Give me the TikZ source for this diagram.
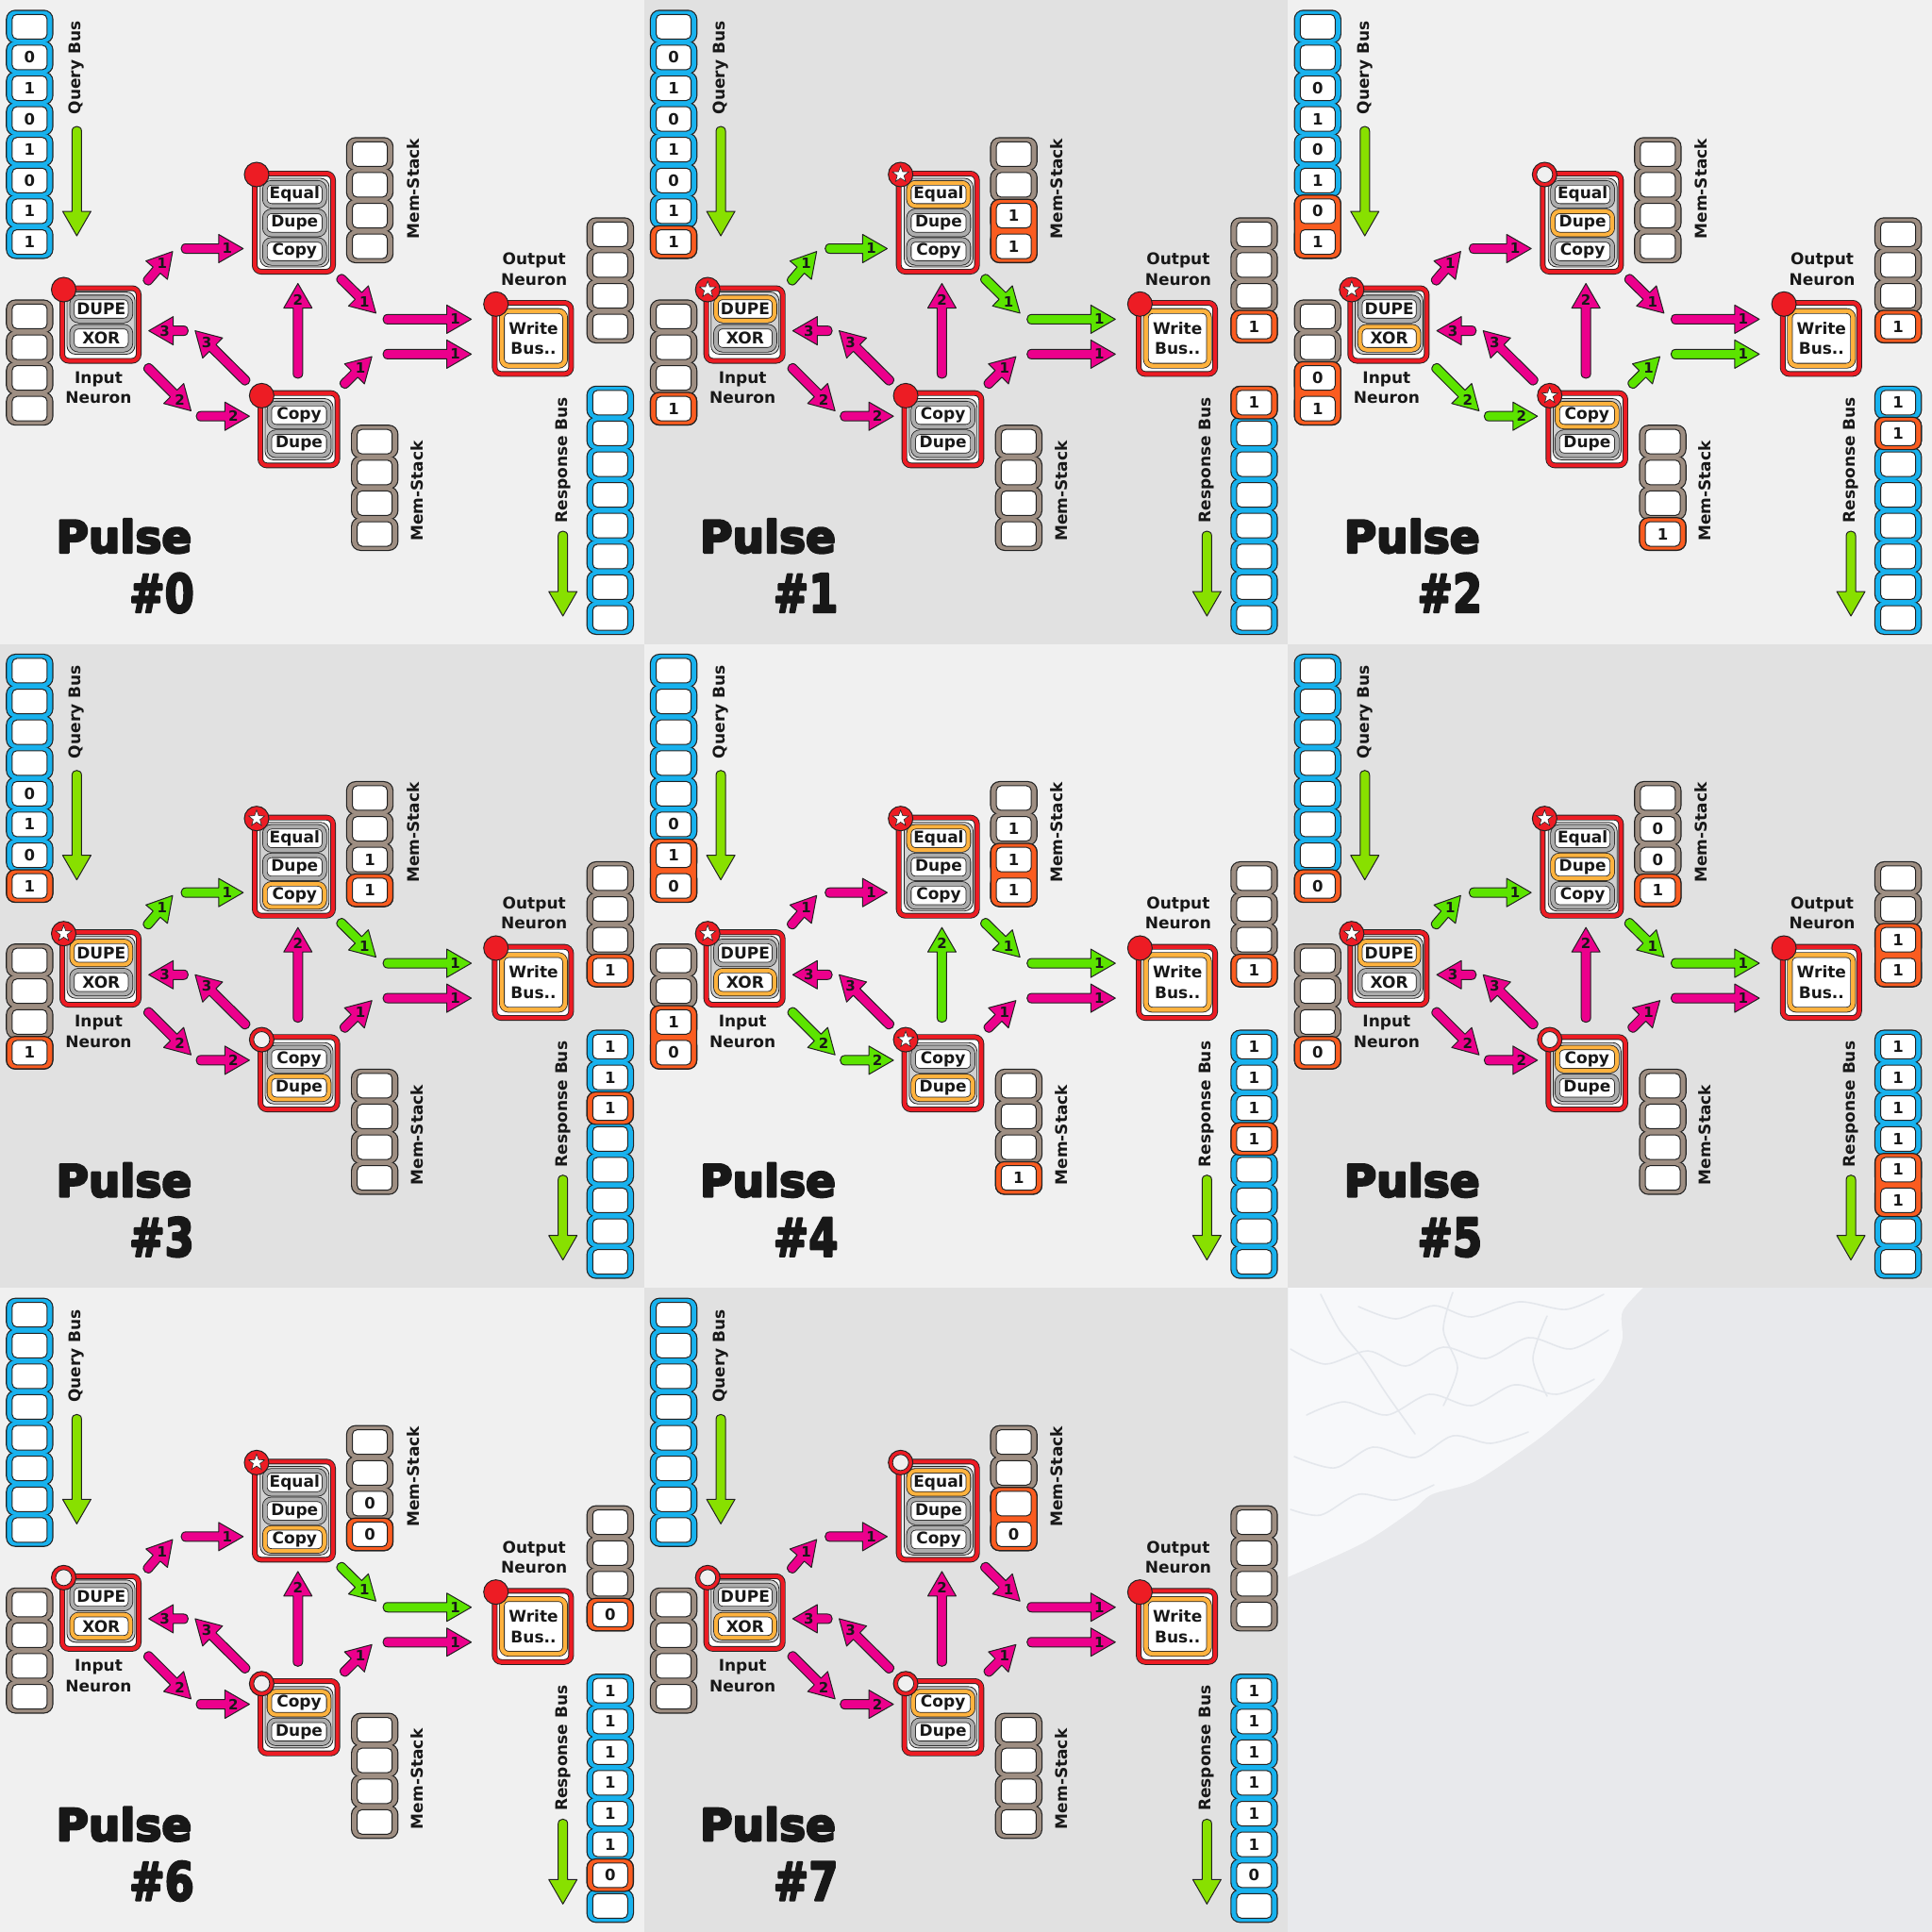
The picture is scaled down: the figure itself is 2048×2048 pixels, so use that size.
\documentclass[tikz,border=0pt]{standalone}
\usepackage{fontspec}
\setmainfont{DejaVu Sans}
\usepackage{graphicx}
\usetikzlibrary{calc,shapes.geometric}
\definecolor{dk}{RGB}{34,34,34}
\definecolor{txt}{RGB}{24,24,24}
\definecolor{bluec}{RGB}{24,178,238}
\definecolor{brownc}{RGB}{158,142,130}
\definecolor{hlc}{RGB}{250,92,32}
\definecolor{pillg}{RGB}{172,172,172}
\definecolor{pillo}{RGB}{255,178,62}
\definecolor{contc}{RGB}{208,208,208}
\definecolor{redc}{RGB}{237,28,36}
\definecolor{pk}{RGB}{236,0,140}
\definecolor{gr}{RGB}{92,228,0}
\definecolor{lime}{RGB}{136,224,0}
\definecolor{bgA}{RGB}{240,240,240}
\definecolor{bgB}{RGB}{225,225,225}
\definecolor{bgC}{RGB}{232,233,236}
\definecolor{brainf}{RGB}{247,248,250}
\definecolor{brainl}{RGB}{228,231,236}
\tikzset{
 cellin/.style={draw=dk, line width=1pt, fill=white, rounded corners=5pt, minimum width=37pt, minimum height=26pt, inner sep=0pt, font=\fontsize{16.5}{16.5}\selectfont\bfseries, text=txt},
 nframe/.style={draw=dk, double=redc, double distance=4.2pt, line width=0.9pt, fill=white, rounded corners=7pt, inner sep=0pt},
 cont/.style={draw=dk, line width=0.8pt, fill=contc, rounded corners=9pt, inner sep=0pt},
 pill/.style={draw=dk, double distance=4pt, line width=0.8pt, fill=white, rounded corners=7pt, minimum width=63pt, minimum height=24.5pt, inner sep=0pt, font=\fontsize{17}{17}\selectfont\bfseries, text=txt},
 lbl/.style={font=\fontsize{17}{21.6}\selectfont\bfseries, text=txt, align=center, inner sep=0pt},
 arrlbl/.style={font=\fontsize{15}{15}\selectfont\bfseries, text=txt, inner sep=0pt},
 brainline/.style={brainl, line width=1.6pt, line cap=round},
}
\newcommand{\cellval}[1]{\if e#1\else#1\fi}
% prefix, x, y0, colour, values, h1, h2
\newcommand{\stack}[7]{%
 \foreach \v [count=\i] in #5 {\path[draw=dk, line width=2.4pt, rounded corners=9pt] ({#2-24},{#3+32.6*(\i-1)-16.8}) rectangle ({#2+24},{#3+32.6*(\i-1)+16.8});}
 \foreach \v [count=\i] in #5 {\path[fill=#4, rounded corners=9pt] ({#2-24},{#3+32.6*(\i-1)-16.8}) rectangle ({#2+24},{#3+32.6*(\i-1)+16.8});}
 \ifnum#6>0 \path[draw=dk, line width=1.2pt, fill=hlc, rounded corners=9pt] ({#2-24.5},{#3+32.6*(#6-1)-17.2}) rectangle ({#2+24.5},{#3+32.6*(#7-1)+17.2});\fi
 \foreach \v [count=\i] in #5 {\node[cellin] (#1\i) at (#2,{#3+32.6*(\i-1)}) {\cellval{\v}};}
}
% id, tail, tip, colour, label
\newcommand{\farr}[5]{%
 \coordinate (fab) at ($(#3)!26pt!(#2)$);
 \path[draw=dk, line width=1pt, fill=#4, line join=round]
  ($(#2)!5pt!90:(#3)$) -- ($(fab)!5pt!90:(#3)$) -- ($(fab)!15pt!90:(#3)$) -- (#3)
  -- ($(fab)!15pt!-90:(#3)$) -- ($(fab)!5pt!-90:(#3)$) -- ($(#2)!5pt!-90:(#3)$)
  .. controls ($(#2)!8.33pt!-143.13:(#3)$) and ($(#2)!8.33pt!143.13:(#3)$) .. cycle;
 \if\relax\detokenize{#5}\relax\else
 \node[arrlbl] (#1) at ($(#3)!17pt!(#2)$) {#5};
 \fi
}
\newcommand{\dotred}[3]{\node[circle, draw=dk, line width=1pt, fill=redc, minimum size=26pt, inner sep=0pt] (#1) at (#2,#3) {};}
\newcommand{\dotstar}[3]{\dotred{#1}{#2}{#3}\node[star, star points=5, star point ratio=2.4, draw=dk, line width=0.6pt, fill=white, minimum size=18pt, inner sep=0pt] (#1s) at (#2,#3) {};}
\newcommand{\dotopen}[3]{\dotred{#1}{#2}{#3}\node[circle, draw=dk, line width=0.8pt, fill=white!94!black, minimum size=17pt, inner sep=0pt] (#1s) at (#2,#3) {};}
% big heavy caption text (text render mode 2: fill + stroke in the text colour)
\newcommand{\heavy}[6]{%
 \node[anchor=#4, inner sep=0pt, text=txt, font=\fontsize{#5}{#5}\selectfont\bfseries] (#1) at (#2,#3)
  {\special{pdf:literal direct 2 Tr 2.4 w 1 j 0.094 0.094 0.094 RG}#6\special{pdf:literal direct 0 Tr}};
}
\newcommand{\resetP}{%
 \def\Qv{e,e,e,e,e,e,e,e}\def\Qa{0}\def\Qb{0}%
 \def\Iv{e,e,e,e}\def\Ia{0}\def\Ib{0}%
 \def\Tv{e,e,e,e}\def\Ta{0}\def\Tb{0}%
 \def\Bv{e,e,e,e}\def\Ba{0}\def\Bb{0}%
 \def\Ov{e,e,e,e}\def\Oa{0}\def\Ob{0}%
 \def\Rv{e,e,e,e,e,e,e,e}\def\Ra{0}\def\Rb{0}%
 \let\DIn\dotred\let\DTop\dotred\let\DBot\dotred
 \def\hDupe{g}\def\hXor{g}\def\hEq{g}\def\hTD{g}\def\hTC{g}\def\hBC{g}\def\hBD{g}%
 \def\cA{pk}\def\cB{pk}\def\cC{pk}\def\cD{pk}\def\cE{pk}\def\cF{pk}\def\cG{pk}\def\cH{pk}\def\cI{pk}\def\cJ{pk}\def\cK{pk}%
}
% id, col, row, bg, number
\newcommand{\panel}[5]{%
\begin{scope}[shift={({#2*682.667},{#3*682.667})}]
 \fill[#4] (0,0) rectangle (682.667,682.667);
 \stack{#1-q}{31.4}{28.3}{bluec}{\Qv}{\Qa}{\Qb}
 \stack{#1-i}{31.4}{335.4}{brownc}{\Iv}{\Ia}{\Ib}
 \stack{#1-t}{392}{163.3}{brownc}{\Tv}{\Ta}{\Tb}
 \stack{#1-b}{397.2}{468.2}{brownc}{\Bv}{\Ba}{\Bb}
 \stack{#1-o}{646.8}{248.3}{brownc}{\Ov}{\Oa}{\Ob}
 \stack{#1-r}{646.8}{426.8}{bluec}{\Rv}{\Ra}{\Rb}
 \node[lbl, rotate=90] (#1-lq) at (81.4,72) {Query Bus};
 \node[lbl, rotate=90] (#1-lt) at (437.7,200) {Mem-Stack};
 \node[lbl, rotate=90] (#1-lb) at (442,520.5) {Mem-Stack};
 \node[lbl, rotate=90] (#1-lr) at (596.7,487.8) {Response Bus};
 \node[lbl] (#1-lin) at (104.5,411) {Input\\Neuron};
 \node[lbl] (#1-lout) at (566.2,285.3) {Output\\Neuron};
 % bus arrows
 \coordinate (#1-qs) at (81.4,139); \coordinate (#1-qt) at (81.4,250);
 \coordinate (#1-rs) at (596.7,568); \coordinate (#1-rt) at (596.7,653);
 \farr{#1-qa}{#1-qs}{#1-qt}{lime}{}
 \farr{#1-ra}{#1-rs}{#1-rt}{lime}{}
 % synapse arrows
 \coordinate (#1-a1s) at (157,297); \coordinate (#1-a1t) at (183,266.6);
 \coordinate (#1-a2s) at (197,263.5); \coordinate (#1-a2t) at (257.8,263.5);
 \coordinate (#1-a3s) at (362,296); \coordinate (#1-a3t) at (398.5,331.9);
 \coordinate (#1-a4s) at (411,338.4); \coordinate (#1-a4t) at (499.6,338.4);
 \coordinate (#1-a5s) at (411,375.4); \coordinate (#1-a5t) at (499.6,375.4);
 \coordinate (#1-a6s) at (365.5,406.5); \coordinate (#1-a6t) at (394.2,378);
 \coordinate (#1-a7s) at (315.8,396); \coordinate (#1-a7t) at (315.8,300.5);
 \coordinate (#1-a8s) at (157.5,390.5); \coordinate (#1-a8t) at (202.5,435.5);
 \coordinate (#1-a9s) at (213,441.2); \coordinate (#1-a9t) at (264.4,441.2);
 \coordinate (#1-a10s) at (259.8,403); \coordinate (#1-a10t) at (206.9,350.6);
 \coordinate (#1-a11s) at (194.5,350.6); \coordinate (#1-a11t) at (157.7,350.6);
 \farr{#1-l1}{#1-a1s}{#1-a1t}{\cA}{1}
 \farr{#1-l2}{#1-a2s}{#1-a2t}{\cB}{1}
 \farr{#1-l3}{#1-a3s}{#1-a3t}{\cC}{1}
 \farr{#1-l4}{#1-a4s}{#1-a4t}{\cD}{1}
 \farr{#1-l5}{#1-a5s}{#1-a5t}{\cE}{1}
 \farr{#1-l6}{#1-a6s}{#1-a6t}{\cF}{1}
 \farr{#1-l7}{#1-a7s}{#1-a7t}{\cG}{2}
 \farr{#1-l8}{#1-a8s}{#1-a8t}{\cH}{2}
 \farr{#1-l9}{#1-a9s}{#1-a9t}{\cI}{2}
 \farr{#1-l10}{#1-a10s}{#1-a10t}{\cJ}{3}
 \farr{#1-l11}{#1-a11s}{#1-a11t}{\cK}{3}
 % input neuron
 \node[nframe, minimum width=81pt, minimum height=77pt] (#1-in) at (106.5,344) {};
 \node[cont, minimum width=72pt, minimum height=66pt] (#1-inc) at (107,342.5) {};
 \node[pill, double=pill\hDupe, minimum width=62pt] (#1-dupe) at (107.3,327.5) {DUPE};
 \node[pill, double=pill\hXor, minimum width=62pt] (#1-xor) at (107.3,358.5) {XOR};
 \DIn{#1-din}{67.5}{307}
 % top neuron
 \node[nframe, minimum width=83pt, minimum height=104pt] (#1-top) at (311.5,236) {};
 \node[cont, minimum width=73pt, minimum height=94pt] (#1-topc) at (312.3,236) {};
 \node[pill, double=pill\hEq] (#1-eq) at (312.3,206) {Equal};
 \node[pill, double=pill\hTD] (#1-td) at (312.3,236.3) {Dupe};
 \node[pill, double=pill\hTC] (#1-tc) at (312.3,266.5) {Copy};
 \DTop{#1-dtop}{272}{185}
 % bottom neuron
 \node[nframe, minimum width=81.6pt, minimum height=76.7pt] (#1-bot) at (316.8,455) {};
 \node[cont, minimum width=72pt, minimum height=65pt] (#1-botc) at (317,455) {};
 \node[pill, double=pill\hBC] (#1-bc) at (317,440) {Copy};
 \node[pill, double=pill\hBD] (#1-bd) at (317,470.4) {Dupe};
 \DBot{#1-dbot}{277.4}{419.4}
 % output neuron
 \node[nframe, minimum width=81pt, minimum height=75.4pt] (#1-out) at (564.9,358.7) {};
 \node[draw=dk, double=pillo, double distance=4.4pt, line width=0.8pt, fill=white, rounded corners=7pt, minimum width=67pt, minimum height=58pt, inner sep=0pt, lbl] (#1-wb) at (565.5,358.7) {Write\\Bus..};
 \dotred{#1-dout}{525.7}{322.3}
 % pulse caption
 \heavy{#1-pl}{203.5}{585.8}{base east}{47}{Pulse}
 \heavy{#1-pn}{206}{649}{base east}{56}{\scalebox{0.8}[1]{\#{}#5}}
\end{scope}}
\begin{document}
\begin{tikzpicture}[x=1pt, y=-1pt]
\useasboundingbox (0,0) rectangle (2048,2048);
\fill[bgC] (0,0) rectangle (2048,2048);
% Pulse 0
\resetP
\def\Qv{e,0,1,0,1,0,1,1}
\panel{p0}{0}{0}{bgA}{0}
% Pulse 1
\resetP
\def\Qv{e,0,1,0,1,0,1,1}\def\Qa{8}\def\Qb{8}
\def\Iv{e,e,e,1}\def\Ia{4}\def\Ib{4}
\def\Tv{e,e,1,1}\def\Ta{3}\def\Tb{4}
\def\Ov{e,e,e,1}\def\Oa{4}\def\Ob{4}
\def\Rv{1,e,e,e,e,e,e,e}\def\Ra{1}\def\Rb{1}
\let\DIn\dotstar\let\DTop\dotstar
\def\hDupe{o}\def\hEq{o}
\def\cA{gr}\def\cB{gr}\def\cC{gr}\def\cD{gr}
\panel{p1}{1}{0}{bgB}{1}
% Pulse 2
\resetP
\def\Qv{e,e,0,1,0,1,0,1}\def\Qa{7}\def\Qb{8}
\def\Iv{e,e,0,1}\def\Ia{3}\def\Ib{4}
\def\Bv{e,e,e,1}\def\Ba{4}\def\Bb{4}
\def\Ov{e,e,e,1}\def\Oa{4}\def\Ob{4}
\def\Rv{1,1,e,e,e,e,e,e}\def\Ra{2}\def\Rb{2}
\let\DIn\dotstar\let\DTop\dotopen\let\DBot\dotstar
\def\hXor{o}\def\hTD{o}\def\hBC{o}
\def\cH{gr}\def\cI{gr}\def\cF{gr}\def\cE{gr}
\panel{p2}{2}{0}{bgA}{2}
% Pulse 3
\resetP
\def\Qv{e,e,e,e,0,1,0,1}\def\Qa{8}\def\Qb{8}
\def\Iv{e,e,e,1}\def\Ia{4}\def\Ib{4}
\def\Tv{e,e,1,1}\def\Ta{4}\def\Tb{4}
\def\Ov{e,e,e,1}\def\Oa{4}\def\Ob{4}
\def\Rv{1,1,1,e,e,e,e,e}\def\Ra{3}\def\Rb{3}
\let\DIn\dotstar\let\DTop\dotstar\let\DBot\dotopen
\def\hDupe{o}\def\hTC{o}\def\hBD{o}
\def\cA{gr}\def\cB{gr}\def\cC{gr}\def\cD{gr}
\panel{p3}{0}{1}{bgB}{3}
% Pulse 4
\resetP
\def\Qv{e,e,e,e,e,0,1,0}\def\Qa{7}\def\Qb{8}
\def\Iv{e,e,1,0}\def\Ia{3}\def\Ib{4}
\def\Tv{e,1,1,1}\def\Ta{3}\def\Tb{4}
\def\Bv{e,e,e,1}\def\Ba{4}\def\Bb{4}
\def\Ov{e,e,e,1}\def\Oa{4}\def\Ob{4}
\def\Rv{1,1,1,1,e,e,e,e}\def\Ra{4}\def\Rb{4}
\let\DIn\dotstar\let\DTop\dotstar\let\DBot\dotstar
\def\hXor{o}\def\hEq{o}\def\hBD{o}
\def\cH{gr}\def\cI{gr}\def\cG{gr}\def\cC{gr}\def\cD{gr}
\panel{p4}{1}{1}{bgA}{4}
% Pulse 5
\resetP
\def\Qv{e,e,e,e,e,e,e,0}\def\Qa{8}\def\Qb{8}
\def\Iv{e,e,e,0}\def\Ia{4}\def\Ib{4}
\def\Tv{e,0,0,1}\def\Ta{4}\def\Tb{4}
\def\Ov{e,e,1,1}\def\Oa{3}\def\Ob{4}
\def\Rv{1,1,1,1,1,1,e,e}\def\Ra{5}\def\Rb{6}
\let\DIn\dotstar\let\DTop\dotstar\let\DBot\dotopen
\def\hDupe{o}\def\hTD{o}\def\hBC{o}
\def\cA{gr}\def\cB{gr}\def\cC{gr}\def\cD{gr}
\panel{p5}{2}{1}{bgB}{5}
% Pulse 6
\resetP
\def\Tv{e,e,0,0}\def\Ta{4}\def\Tb{4}
\def\Ov{e,e,e,0}\def\Oa{4}\def\Ob{4}
\def\Rv{1,1,1,1,1,1,0,e}\def\Ra{7}\def\Rb{7}
\let\DIn\dotopen\let\DTop\dotstar\let\DBot\dotopen
\def\hXor{o}\def\hTC{o}\def\hBC{o}
\def\cC{gr}\def\cD{gr}
\panel{p6}{0}{2}{bgA}{6}
% Pulse 7
\resetP
\def\Tv{e,e,e,0}\def\Ta{3}\def\Tb{4}
\def\Rv{1,1,1,1,1,1,0,e}
\let\DIn\dotopen\let\DTop\dotopen\let\DBot\dotopen
\def\hXor{o}\def\hEq{o}\def\hBC{o}
\panel{p7}{1}{2}{bgB}{7}
% empty cell with faint brain texture
\begin{scope}
 \clip (1365.3,1365.3) rectangle (2048,2048);
 \fill[brainf] plot[smooth] coordinates {(1747,1360) (1720,1390) (1719,1423) (1697,1466) (1645,1514) (1610,1540) (1562,1571) (1518,1584) (1497,1601) (1444,1636) (1360,1674)} -- (1360,1360) -- cycle;
 \draw[brainline] plot[smooth] coordinates {(1700,1372) (1660,1388) (1610,1380) (1560,1396) (1520,1384) (1480,1398) (1440,1385)};
 \draw[brainline] plot[smooth] coordinates {(1705,1410) (1665,1430) (1620,1418) (1575,1440) (1530,1428) (1490,1448) (1450,1432) (1405,1446) (1368,1430)};
 \draw[brainline] plot[smooth] coordinates {(1690,1462) (1650,1478) (1605,1468) (1560,1490) (1515,1478) (1470,1500) (1425,1486) (1385,1500)};
 \draw[brainline] plot[smooth] coordinates {(1620,1518) (1580,1530) (1540,1522) (1500,1545) (1455,1534) (1415,1556) (1372,1544)};
 \draw[brainline] plot[smooth] coordinates {(1520,1574) (1480,1590) (1440,1584) (1400,1606) (1368,1600)};
 \draw[brainline] plot[smooth] coordinates {(1400,1372) (1420,1410) (1445,1440) (1470,1478) (1500,1520)};
 \draw[brainline] plot[smooth] coordinates {(1540,1370) (1530,1410) (1545,1450) (1530,1490)};
 \draw[brainline] plot[smooth] coordinates {(1640,1395) (1625,1440) (1640,1480)};
\end{scope}
\end{tikzpicture}
\end{document}
